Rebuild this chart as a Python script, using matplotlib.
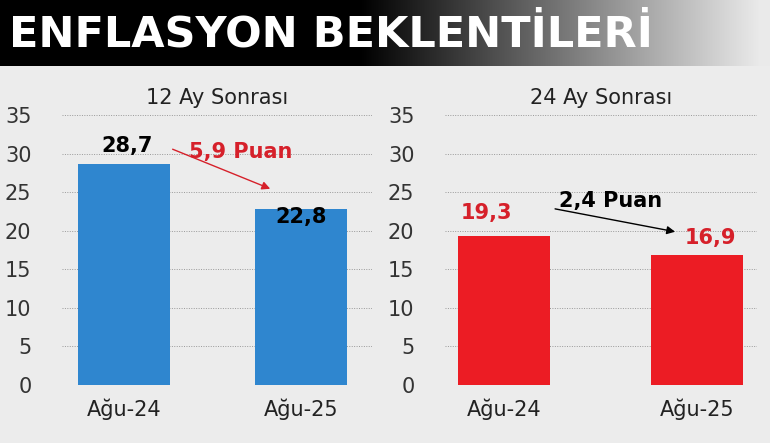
import matplotlib
matplotlib.use("Agg")
import matplotlib.pyplot as plt
import numpy as np

categories = ["Ağu-24", "Ağu-25"]
vals12 = [28.7, 22.8]
vals24 = [19.3, 16.9]
labels12 = ["28,7", "22,8"]
labels24 = ["19,3", "16,9"]
yticks = [0, 5, 10, 15, 20, 25, 30, 35]

plt.rcParams['font.family'] = ['Liberation Sans Narrow', 'DejaVu Sans']
fig = plt.figure(figsize=(7.7, 4.43), dpi=100)
fig.patch.set_facecolor('#ececec')

# header
hax = fig.add_axes([0, 1 - 66/443, 1, 66/443])
grad = np.ones((1, 770))
xs = np.arange(770)
g = np.clip((xs - 360) / 400, 0, 1)
img = np.stack([g*0.92, g*0.92, g*0.92], axis=-1)[None, :, :]
hax.imshow(img, aspect='auto', extent=[0, 1, 0, 1])
hax.set_xlim(0, 1); hax.set_ylim(0, 1); hax.axis('off')
hax.text(0.012, 0.48, "ENFLASYON BEKLENTİLERİ", color='white', fontsize=31,
         fontweight='bold', va='center', ha='left')

def panel(rect, vals, labs, color, title, xlim, width):
    ax = fig.add_axes(rect)
    ax.set_facecolor('#ececec')
    ax.bar([0, 1], vals, width=width, color=color, zorder=3)
    ax.set_xlim(*xlim); ax.set_ylim(0, 35)
    ax.set_yticks(yticks)
    ax.set_yticklabels([str(t) for t in yticks], fontsize=15, color='#333333')
    ax.set_xticks([0, 1])
    ax.set_xticklabels(categories, fontsize=15, color='#222222')
    ax.tick_params(length=0, pad=10)
    ax.tick_params(axis='y', pad=22)
    for s in ax.spines.values():
        s.set_visible(False)
    ax.grid(axis='y', linestyle=(0, (1, 1.5)), color='#999999', linewidth=0.7, zorder=0)
    ax.set_title(title, fontsize=15, color='#222222', pad=8)
    return ax

ax1 = panel([62/770, 1-385/443, 310/770, 270/443], vals12, labels12, '#2f86cf',
            "12 Ay Sonrası", (-0.35, 1.40), 0.52)
ax2 = panel([445/770, 1-385/443, 312/770, 270/443], vals24, labels24, '#ec1c24',
            "24 Ay Sonrası", (-0.306, 1.31), 0.48)

ax1.text(0.02, 31.0, labels12[0], ha='center', va='center', fontsize=15, fontweight='bold', color='black')
ax1.text(1.0, 21.8, labels12[1], ha='center', va='center', fontsize=15, fontweight='bold', color='black')
ax1.annotate("", xy=(0.84, 25.3), xytext=(0.26, 30.7),
             arrowprops=dict(arrowstyle='-|>', color='#d6202a', lw=1, mutation_scale=12))
ax1.text(0.66, 30.2, "5,9 Puan", ha='center', va='center', fontsize=15, fontweight='bold', color='#d6202a')

ax2.text(-0.09, 22.3, labels24[0], ha='center', va='center', fontsize=15, fontweight='bold', color='#d6202a')
ax2.text(1.07, 19.0, labels24[1], ha='center', va='center', fontsize=15, fontweight='bold', color='#d6202a')
ax2.annotate("", xy=(0.90, 19.8), xytext=(0.25, 22.9),
             arrowprops=dict(arrowstyle='-|>', color='black', lw=1, mutation_scale=12))
ax2.text(0.55, 23.8, "2,4 Puan", ha='center', va='center', fontsize=15, fontweight='bold', color='black')

fig.savefig("out.png", dpi=100, facecolor=fig.get_facecolor())
